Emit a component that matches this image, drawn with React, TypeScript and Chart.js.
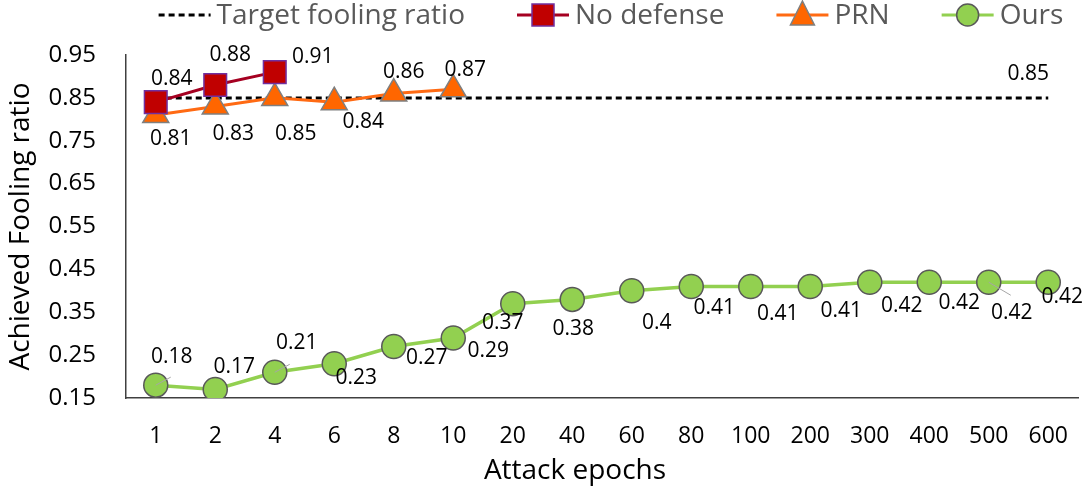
import React, { useEffect, useRef } from "react";
import { Chart, registerables } from "chart.js";

Chart.register(...registerables);

// ---- data ----
const epochs = ["1", "2", "4", "6", "8", "10", "20", "40", "60", "80", "100", "200", "300", "400", "500", "600"];
const targetRatio = 0.85;
const noDefense = [0.84, 0.88, 0.91];
const prn = [0.81, 0.83, 0.85, 0.84, 0.86, 0.87];
const ours = [0.18, 0.17, 0.21, 0.23, 0.27, 0.29, 0.37, 0.38, 0.4, 0.41, 0.41, 0.41, 0.42, 0.42, 0.42, 0.42];
const yTickValues = [0.15, 0.25, 0.35, 0.45, 0.55, 0.65, 0.75, 0.85, 0.95];

// ---- label placement (pixel offsets from each point) ----
const noDefenseLabelPos = [[16, -23], [15, -30], [38, -15]];
const prnLabelPos = [[15, 24], [18, 28], [21, 36], [29, 20], [10, -22], [12, -19]];
const oursLabelPos = [
  [16, -28], [19, -22], [22, -29], [22, 14], [33, 11], [35, 13], [-10, 19], [1, 30],
  [25, 32], [23, 21], [27, 27], [31, 24], [32, 24], [30, 21], [23, 31], [14, 15],
];
// short leader lines (end offsets) on a few labels
const oursLeaders: Record<number, [number, number]> = { 0: [15, -8], 2: [15, -8], 14: [22, 13] };

const FONT = "'Open Sans', sans-serif";
const X_TITLE = "Attack epochs";

const COLORS = {
  target: "#000000",
  noDefLine: "#A50021",
  noDefFill: "#C00000",
  noDefBorder: "#7030A0",
  prnLine: "#FF6A13",
  prnFill: "#FF6600",
  prnBorder: "#7F7F7F",
  oursLine: "#92D050",
  oursFill: "#92D050",
  oursBorder: "#595959",
};

function drawMarker(ctx: CanvasRenderingContext2D, kind: string, x: number, y: number, fill: string, stroke: string) {
  ctx.save();
  ctx.setLineDash([]);
  ctx.fillStyle = fill;
  ctx.strokeStyle = stroke;
  ctx.lineWidth = 1.5;
  ctx.beginPath();
  if (kind === "rect") {
    ctx.rect(x - 11, y - 11, 22, 22);
  } else if (kind === "triangle") {
    ctx.moveTo(x, y - 14);
    ctx.lineTo(x + 12, y + 10);
    ctx.lineTo(x - 12, y + 10);
    ctx.closePath();
  } else {
    ctx.arc(x, y, 11, 0, Math.PI * 2);
  }
  ctx.fill();
  ctx.stroke();
  ctx.restore();
}

const legendPlugin = {
  id: "topLegend",
  afterDraw(chart: any) {
    const ctx: CanvasRenderingContext2D = chart.ctx;
    const items = [
      { text: "Target fooling ratio", line: COLORS.target, dash: [6, 4], marker: null as any },
      { text: "No defense", line: COLORS.noDefLine, dash: [], marker: ["rect", COLORS.noDefFill, COLORS.noDefBorder] },
      { text: "PRN", line: COLORS.prnLine, dash: [], marker: ["triangle", COLORS.prnFill, COLORS.prnBorder] },
      { text: "Ours", line: COLORS.oursLine, dash: [], marker: ["circle", COLORS.oursFill, COLORS.oursBorder] },
    ];
    const y = 15;
    const lineLen = 52;
    const gapText = 6;
    const gapItem = 52;
    ctx.save();
    ctx.font = `28px ${FONT}`;
    ctx.textBaseline = "middle";
    ctx.textAlign = "left";
    const widths = items.map((it) => ctx.measureText(it.text).width);
    const total = widths.reduce((a, w) => a + lineLen + gapText + w, 0) + gapItem * (items.length - 1);
    let x = 611 - total / 2;
    items.forEach((it, i) => {
      ctx.save();
      ctx.strokeStyle = it.line;
      ctx.lineWidth = 3;
      ctx.setLineDash(it.dash);
      ctx.beginPath();
      ctx.moveTo(x, y);
      ctx.lineTo(x + lineLen, y);
      ctx.stroke();
      ctx.restore();
      if (it.marker) drawMarker(ctx, it.marker[0], x + lineLen / 2, y, it.marker[1], it.marker[2]);
      ctx.fillStyle = "#595959";
      ctx.fillText(it.text, x + lineLen + gapText, y + 1);
      x += lineLen + gapText + widths[i] + gapItem;
    });
    ctx.restore();

    // x axis title
    ctx.save();
    ctx.font = `28px ${FONT}`;
    ctx.fillStyle = "#000000";
    ctx.textAlign = "center";
    ctx.textBaseline = "middle";
    ctx.fillText(X_TITLE, 575, 471);
    ctx.restore();
  },
};

const labelPlugin = {
  id: "pointLabels",
  afterDatasetsDraw(chart: any) {
    const ctx: CanvasRenderingContext2D = chart.ctx;
    ctx.save();
    ctx.font = `21px ${FONT}`;
    ctx.fillStyle = "#000000";
    ctx.textAlign = "center";
    ctx.textBaseline = "middle";
    chart.data.datasets.forEach((ds: any, di: number) => {
      const pos = ds.labelPos as number[][] | undefined;
      if (!pos) return;
      const meta = chart.getDatasetMeta(di);
      meta.data.forEach((pt: any, i: number) => {
        const off = pos[i];
        if (!off) return;
        const leader = ds.leaders ? ds.leaders[i] : undefined;
        if (leader) {
          ctx.save();
          ctx.strokeStyle = "#A6A6A6";
          ctx.lineWidth = 1;
          ctx.beginPath();
          ctx.moveTo(pt.x, pt.y);
          ctx.lineTo(pt.x + leader[0], pt.y + leader[1]);
          ctx.stroke();
          ctx.restore();
        }
        ctx.fillText(String(ds.data[i]), pt.x + off[0], pt.y + off[1]);
      });
    });
    ctx.restore();
  },
};

export default function App() {
  const canvasRef = useRef<HTMLCanvasElement | null>(null);

  useEffect(() => {
    if (!canvasRef.current) return;
    const xTickFont = { family: FONT, size: 23 };
    const yTickFont = { family: FONT, size: 24 };
    const titleFont = { family: FONT, size: 28 };
    const targetLabels: (number[] | null)[] = epochs.map(() => null);
    targetLabels[epochs.length - 1] = [-20, -24];

    const chart = new Chart(canvasRef.current, {
      type: "line",
      data: {
        labels: epochs,
        datasets: [
          {
            label: "No defense",
            data: noDefense,
            borderColor: COLORS.noDefLine,
            backgroundColor: COLORS.noDefFill,
            borderWidth: 3,
            pointStyle: "rect",
            pointRadius: 16,
            pointBackgroundColor: COLORS.noDefFill,
            pointBorderColor: COLORS.noDefBorder,
            pointBorderWidth: 1.5,
            labelPos: noDefenseLabelPos,
          } as any,
          {
            label: "PRN",
            data: prn,
            borderColor: COLORS.prnLine,
            backgroundColor: COLORS.prnFill,
            borderWidth: 3,
            pointStyle: "triangle",
            pointRadius: 15,
            pointBackgroundColor: COLORS.prnFill,
            pointBorderColor: COLORS.prnBorder,
            pointBorderWidth: 1.5,
            labelPos: prnLabelPos,
          } as any,
          {
            label: "Ours",
            data: ours,
            borderColor: COLORS.oursLine,
            backgroundColor: COLORS.oursFill,
            borderWidth: 3.5,
            pointStyle: "circle",
            pointRadius: 12,
            pointBackgroundColor: COLORS.oursFill,
            pointBorderColor: COLORS.oursBorder,
            pointBorderWidth: 1.5,
            labelPos: oursLabelPos,
            leaders: oursLeaders,
          } as any,
          {
            label: "Target fooling ratio",
            data: epochs.map(() => targetRatio),
            borderColor: COLORS.target,
            borderWidth: 3,
            borderDash: [6, 4],
            pointRadius: 0,
            labelPos: targetLabels,
          } as any,
        ],
      },
      options: {
        responsive: false,
        animation: false,
        layout: { autoPadding: false, padding: { top: 55, right: 10, left: 0, bottom: 0 } },
        plugins: {
          legend: { display: false },
          tooltip: { enabled: false },
        },
        scales: {
          x: {
            offset: true,
            grid: { display: false, drawTicks: false },
            border: { display: true, color: "#404040", width: 1.5 },
            ticks: { font: xTickFont, color: "#000000", padding: 25, maxRotation: 0, autoSkip: false },
            title: { display: false },
            afterFit: (s: any) => {
              s.height = 92;
              s.paddingLeft = 0;
              s.paddingRight = 0;
            },
          },
          y: {
            min: 0.15,
            max: 0.95,
            grid: { display: false, drawTicks: false },
            border: { display: true, color: "#404040", width: 1.5 },
            ticks: {
              font: yTickFont,
              color: "#000000",
              padding: 30,
              callback: (v: any) => Number(v).toFixed(2),
            },
            afterBuildTicks: (s: any) => {
              s.ticks = yTickValues.map((v) => ({ value: v }));
            },
            title: { display: true, text: "Achieved Fooling ratio", font: titleFont, color: "#000000", padding: { top: 4, bottom: 0 } },
            afterFit: (s: any) => {
              s.width = 126;
            },
          },
        },
      } as any,
      plugins: [legendPlugin, labelPlugin],
    });
    return () => chart.destroy();
  }, []);

  return (
    <div style={{ position: "fixed", left: 0, top: 0, width: 1088, height: 490, background: "#ffffff" }}>
      <canvas ref={canvasRef} width={1088} height={490} style={{ width: 1088, height: 490 }} />
    </div>
  );
}
